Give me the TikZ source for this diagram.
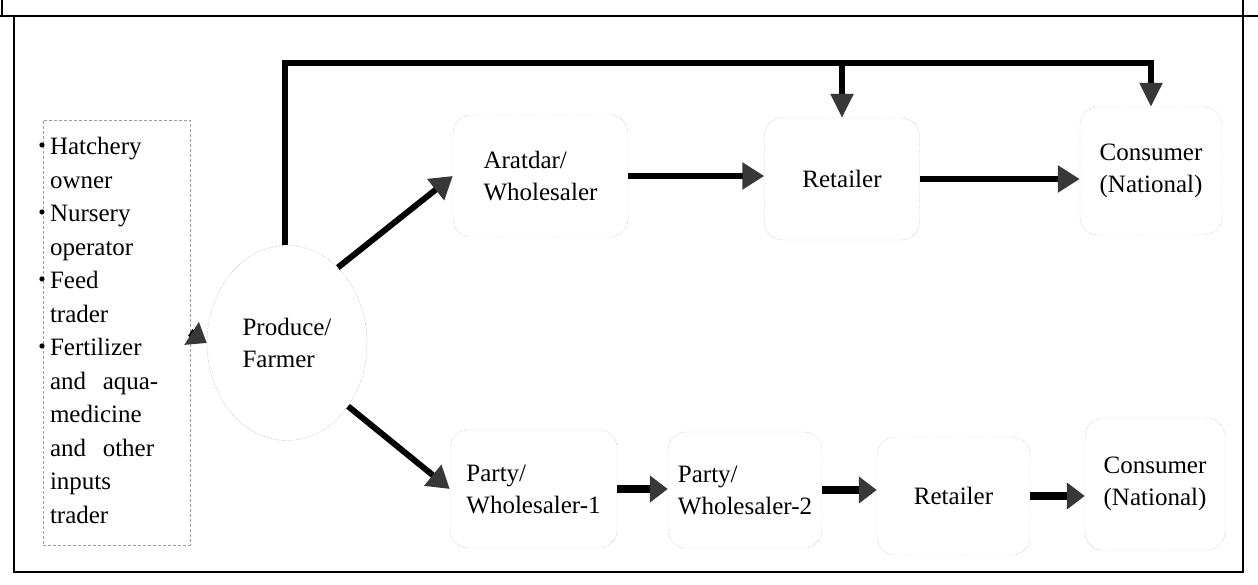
\documentclass[tikz,border=0pt]{standalone}
\usepackage{fontspec}
\setmainfont{Liberation Serif}
\usetikzlibrary{arrows.meta,shapes.geometric}
\newcommand{\itembul}{\llap{\raisebox{2pt}{\scalebox{.85}{\textbullet}}\,}}
\begin{document}
\begin{tikzpicture}[x=1pt,y=-1pt,
  lbl/.style={font=\fontsize{25}{32}\selectfont, align=left},
  chainbox/.style={lbl, draw=black!40, densely dotted, rounded corners=18pt, inner sep=4pt},
  farmer/.style={lbl, ellipse, draw=black!42, densely dotted, minimum width=160pt, minimum height=195pt, inner sep=0pt},
  flow/.style={line width=6pt, -{Triangle[length=22pt,width=26pt,color=black!78]}},
  flowsmall/.style={line width=8pt, -{Triangle[length=18pt,width=26pt,color=black!78]}},
  loopline/.style={line width=5.5pt},
  frame/.style={line width=1.6pt}]
\useasboundingbox (0,0) rectangle (1258,585);
% frame
\draw[frame] (0,16) -- (1258,16);
\draw[frame] (2,0) -- (2,16);
\draw[frame] (14,16) -- (14,572) -- (1243,572) -- (1243,0);
% input suppliers
\node[font=\fontsize{25}{33.5}\selectfont, draw=black!38, densely dashed, minimum width=147pt, minimum height=425pt, text width=133pt, align=left, inner sep=4pt] (inp) at (116.5,332.5)
 {\begin{tabular}{@{}l@{}}
  \itembul Hatchery\\owner\\
  \itembul Nursery\\operator\\
  \itembul Feed\\trader\\
  \itembul Fertilizer\\and\ \ aqua-\\medicine\\and\ \ other\\inputs\\trader
  \end{tabular}};
% farmer
\node[farmer] (farm) at (287,343) {Produce/\\Farmer};
% upper chain
\node[chainbox, minimum width=175pt, minimum height=122pt] (ar) at (540.5,176) {Aratdar/\\Wholesaler};
\node[chainbox, minimum width=155pt, minimum height=122pt] (rt1) at (842,179) {Retailer};
\node[chainbox, minimum width=142pt, minimum height=128pt, align=center] (cn1) at (1151,171) {Consumer\\(National)};
% lower chain
\node[chainbox, minimum width=167pt, minimum height=118pt] (p1) at (533.5,489) {Party/\\Wholesaler-1};
\node[chainbox, minimum width=154pt, minimum height=116pt] (p2) at (745,490) {Party/\\Wholesaler-2};
\node[chainbox, minimum width=153pt, minimum height=118pt] (rt2) at (953.5,496) {Retailer};
\node[chainbox, minimum width=140pt, minimum height=132pt, align=center] (cn2) at (1155,484) {Consumer\\(National)};
% connectors
\draw[flowsmall] (inp.east) -- (farm.west);
\draw[flow] (farm.56) -- (ar.west);
\draw[flow] (farm.-46) -- (p1.west);
\draw[flow] (ar.east) -- (ar.east -| rt1.west);
\draw[flow] (rt1.east) -- (rt1.east -| cn1.west);
\draw[flowsmall] (p1.east) -- (p1.east -| p2.west);
\draw[flowsmall] (p2.east) -- (p2.east -| rt2.west);
\draw[flowsmall] (rt2.east) -- (rt2.east -| cn2.west);
% direct route from farmer to retailer and consumer
\coordinate (tl) at (285,63);
\coordinate (tr) at (cn1.north |- tl);
\coordinate (tm) at (rt1.north |- tl);
\draw[loopline, -{Triangle[length=24pt,width=22pt,color=black!78]}] (farm.north -| tl) -- (tl) -- (tr) -- (cn1.north);
\draw[loopline, -{Triangle[length=24pt,width=22pt,color=black!78]}] (tm) -- (rt1.north);
\end{tikzpicture}
\end{document}
